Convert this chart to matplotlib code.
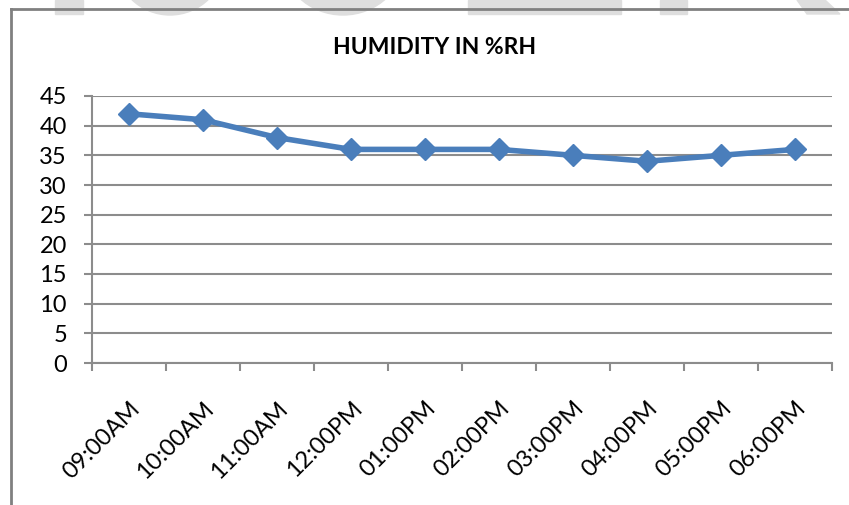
import matplotlib
matplotlib.use("Agg")
import matplotlib.pyplot as plt
from matplotlib.patches import Rectangle, Ellipse, Polygon
from matplotlib.ticker import FixedLocator, MultipleLocator

times = ["09:00AM", "10:00AM", "11:00AM", "12:00PM", "01:00PM",
         "02:00PM", "03:00PM", "04:00PM", "05:00PM", "06:00PM"]
humidity = [42, 41, 38, 36, 36, 36, 35, 34, 35, 36]
title = "HUMIDITY IN %RH"

W, H = 849, 505
plt.rcParams["font.family"] = ["Lato", "DejaVu Sans"]

fig = plt.figure(figsize=(W / 100, H / 100), dpi=100)

# faint watermark letters peeking in at the top edge
wm = "#dedede"
def px(x, y):
    return x / W, 1 - y / H
fig.patches.append(Rectangle(px(55, 14), 28 / W, 14 / H, transform=fig.transFigure, color=wm, zorder=0))
fig.patches.append(Ellipse(px(170, -40), 110 / W, 110 / H, transform=fig.transFigure, color=wm, zorder=0))
fig.patches.append(Ellipse(px(343, -45), 125 / W, 120 / H, transform=fig.transFigure, color=wm, zorder=0))
fig.patches.append(Rectangle(px(468, 14), 153 / W, 14 / H, transform=fig.transFigure, color=wm, zorder=0))
fig.patches.append(Rectangle(px(660, 14), 27 / W, 14 / H, transform=fig.transFigure, color=wm, zorder=0))
fig.patches.append(Polygon([px(797, 0), px(825, 0), px(840, 14), px(807, 14)],
                           transform=fig.transFigure, color=wm, zorder=0))

# chart frame (top and left edges visible)
fig.add_artist(plt.Line2D([11 / W, 11 / W], [0, 1 - 9 / H], transform=fig.transFigure, color="#808080", lw=2))
fig.add_artist(plt.Line2D([11 / W, 1], [1 - 9 / H, 1 - 9 / H], transform=fig.transFigure, color="#808080", lw=2))

ax = fig.add_axes([92 / W, 1 - 363 / H, (832 - 92) / W, (363 - 96) / H])
ax.set_facecolor("none")
x = list(range(len(times)))
ax.plot(x, humidity, color="#4a7ebb", lw=4, marker="D", markersize=11, zorder=3)

ax.set_xlim(-0.5, len(times) - 0.5)
ax.set_ylim(0, 45)
ax.yaxis.set_major_locator(MultipleLocator(5))
ax.grid(axis="y", color="#8c8c8c", lw=1.5)
ax.set_axisbelow(True)

ax.set_xticks(x)
ax.set_xticklabels(times, rotation=45, ha="right", rotation_mode="anchor", fontsize=17)
ax.xaxis.set_minor_locator(FixedLocator([i - 0.5 for i in range(len(times) + 1)]))
ax.tick_params(axis="x", which="major", length=0, pad=25)
ax.tick_params(axis="x", which="minor", length=6, width=1.5, color="#8c8c8c")
ax.tick_params(axis="y", length=6, width=1.5, color="#8c8c8c", pad=12, labelsize=17)

for s in ("top", "right"):
    ax.spines[s].set_visible(False)
for s in ("left", "bottom"):
    ax.spines[s].set_color("#8c8c8c")
    ax.spines[s].set_linewidth(1.5)

fig.text(435 / W, 1 - 48 / H, title, ha="center", va="center", fontsize=16.5, fontweight="bold")

fig.savefig("out.png", dpi=100)
